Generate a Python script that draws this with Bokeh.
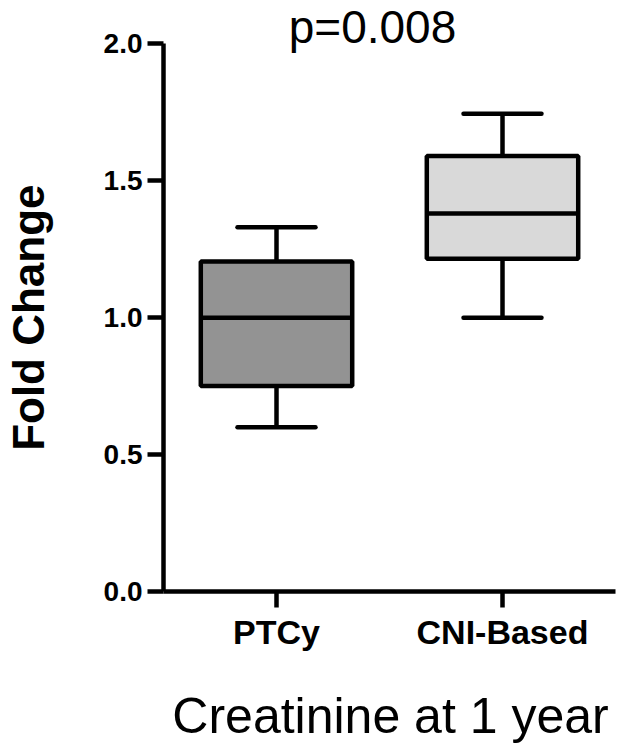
import math
from bokeh.plotting import figure
from bokeh.models import Range1d, FixedTicker, PrintfTickFormatter, ColumnDataSource, Label
from bokeh.embed import file_html
from bokeh.resources import INLINE

groups = ["PTCy", "CNI-Based"]
whisker_low = [0.60, 1.00]
q1 = [0.75, 1.215]
median = [1.00, 1.38]
q3 = [1.205, 1.59]
whisker_high = [1.33, 1.745]
fill_colors = ["#939393", "#d9d9d9"]
y_ticks = [0.0, 0.5, 1.0, 1.5, 2.0]
y_axis_max = 2.0
title_text = "p=0.008"
x_label = "Creatinine at 1 year"
y_label = "Fold Change"

# category slots: one unit per group
x_pos = [i + 0.5 for i in range(len(groups))]
x_axis_max = float(len(groups))

src = ColumnDataSource(dict(x=x_pos, g=groups, lo=whisker_low, q1=q1, med=median, q3=q3, hi=whisker_high, fc=fill_colors))

# layout (pixels): the frame fills the canvas, axes are pinned at the origin
W, H = 619, 750
axis_left_px = 163
axis_right_px = 615
axis_bottom_px = 591
axis_top_px = 43.3
px_per_x = (axis_right_px - axis_left_px) / x_axis_max
px_per_y = (axis_bottom_px - axis_top_px) / y_axis_max
x_start = -axis_left_px / px_per_x
x_end = (W - axis_left_px) / px_per_x
y_start = -(H - axis_bottom_px) / px_per_y
y_end = axis_bottom_px / px_per_y


def sx(px):
    return (px - axis_left_px) / px_per_x


def sy(py):
    return (axis_bottom_px - py) / px_per_y


p = figure(width=W, height=H, x_range=Range1d(x_start, x_end), y_range=Range1d(y_start, y_end),
           output_backend="svg", toolbar_location=None,
           min_border_left=0, min_border_right=0, min_border_top=0, min_border_bottom=0)
p.background_fill_color = "white"
p.border_fill_color = "white"
p.outline_line_color = None
p.xgrid.visible = False
p.ygrid.visible = False

LW = 4.5
box_w = 0.67
cap_w = 0.345

src.data["bl"] = [x - box_w / 2 for x in x_pos]
src.data["br"] = [x + box_w / 2 for x in x_pos]
src.data["cl"] = [x - cap_w / 2 for x in x_pos]
src.data["cr"] = [x + cap_w / 2 for x in x_pos]

# whisker stems
p.segment(x0="x", y0="lo", x1="x", y1="q1", source=src, line_color="black", line_width=LW)
p.segment(x0="x", y0="q3", x1="x", y1="hi", source=src, line_color="black", line_width=LW)
# caps
p.segment(x0="cl", y0="lo", x1="cr", y1="lo", source=src, line_color="black", line_width=LW, line_cap="round")
p.segment(x0="cl", y0="hi", x1="cr", y1="hi", source=src, line_color="black", line_width=LW, line_cap="round")
# boxes
p.vbar(x="x", top="q3", bottom="q1", width=box_w, source=src, fill_color="fc", line_color="black", line_width=LW)
# medians
p.segment(x0="bl", y0="med", x1="br", y1="med", source=src, line_color="black", line_width=LW)

# axes
for ax in (p.xaxis[0], p.yaxis[0]):
    ax.fixed_location = 0
    ax.axis_line_width = LW
    ax.axis_line_color = "black"
    ax.major_tick_line_width = LW
    ax.major_tick_line_color = "black"
    ax.major_tick_out = 16
    ax.major_tick_in = 0
    ax.minor_tick_line_color = None
    ax.major_label_text_color = "black"
    ax.major_label_text_font = "Liberation Sans"
    ax.major_label_text_font_style = "bold"

p.yaxis.ticker = FixedTicker(ticks=y_ticks)
p.yaxis.bounds = (0, y_axis_max)
p.yaxis.formatter = PrintfTickFormatter(format="%.1f")
p.yaxis.major_label_text_font_size = "28px"
p.yaxis.major_label_standoff = 5

p.xaxis.bounds = (0, x_axis_max)
p.xaxis.ticker = FixedTicker(ticks=x_pos)
p.xaxis.major_label_overrides = {x: g for x, g in zip(x_pos, groups)}
p.xaxis.major_label_text_font_size = "34px"
p.xaxis.major_label_standoff = 5

# axis titles
ylab = Label(x=sx(28), y=y_axis_max / 2, text=y_label, angle=math.pi / 2,
             text_align="center", text_baseline="middle",
             text_font="Liberation Sans", text_font_size="44px", text_font_style="bold", text_color="black")
p.add_layout(ylab)

xlab = Label(x=sx(390), y=sy(687), text=x_label, text_align="center", text_baseline="top",
             text_font="Liberation Sans", text_font_size="50px", text_color="black")
p.add_layout(xlab)

title = Label(x=sx(372), y=y_end, text=title_text, text_align="center", text_baseline="top",
              text_font="Liberation Sans", text_font_size="46px", text_color="black")
p.add_layout(title)

open("out.html", "w").write(file_html(p, INLINE))
